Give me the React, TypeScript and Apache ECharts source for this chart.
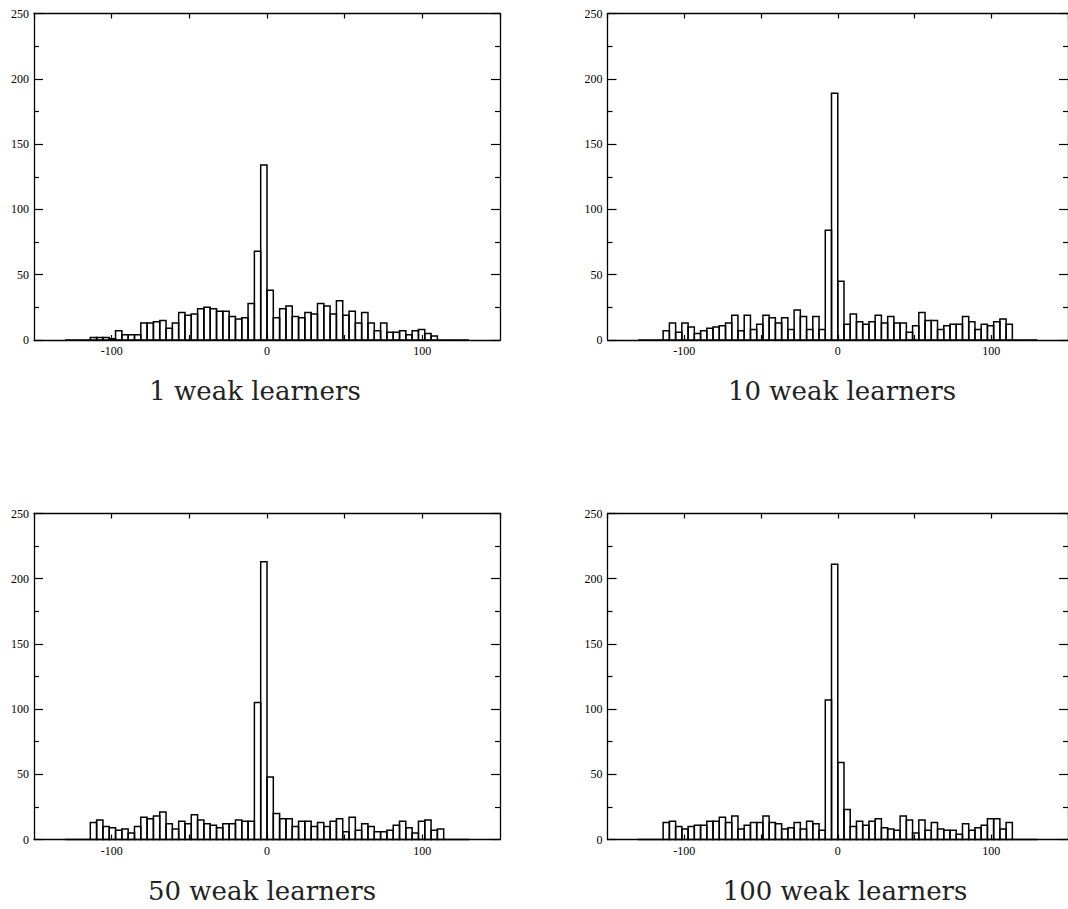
import React, { useEffect, useRef } from "react";
import * as echarts from "echarts";

// Histogram bins: 64 bins from -130 to 130
const BIN_START = -130;
const BIN_WIDTH = 4.0625;

const COUNTS_1 = [
  0, 0, 0, 0, 2, 2, 2, 1, 7, 4, 4, 4, 13, 13, 14, 15, 9, 13, 21, 19, 20, 24, 25, 24, 22, 22, 18, 16, 17, 28, 68, 134,
  38, 17, 24, 26, 18, 17, 21, 20, 28, 26, 20, 30, 19, 22, 13, 21, 13, 7, 13, 6, 6, 7, 4, 7, 8, 5, 3, 0, 0, 0, 0, 0,
];
const COUNTS_10 = [
  0, 0, 0, 0, 7, 13, 6, 13, 10, 5, 7, 9, 10, 11, 13, 19, 7, 19, 8, 12, 19, 17, 13, 17, 8, 23, 18, 8, 18, 8, 84, 189,
  45, 12, 20, 14, 12, 14, 19, 13, 18, 13, 13, 6, 11, 21, 15, 15, 8, 11, 12, 12, 18, 14, 8, 12, 11, 14, 16, 12, 0, 0, 0, 0,
];
const COUNTS_50 = [
  0, 0, 0, 0, 13, 15, 10, 9, 7, 8, 5, 10, 17, 16, 18, 21, 12, 8, 14, 12, 19, 15, 12, 11, 9, 12, 12, 15, 14, 14, 105, 213,
  48, 20, 16, 16, 10, 14, 14, 10, 13, 10, 14, 16, 6, 17, 7, 12, 10, 6, 6, 7, 11, 14, 9, 5, 14, 15, 7, 8, 0, 0, 0, 0,
];
const COUNTS_100 = [
  0, 0, 0, 0, 13, 14, 10, 8, 10, 11, 11, 14, 14, 17, 13, 18, 8, 11, 13, 13, 18, 13, 12, 8, 9, 13, 8, 14, 12, 7, 107, 211,
  59, 23, 10, 14, 11, 14, 16, 9, 8, 7, 18, 15, 5, 15, 7, 13, 8, 7, 7, 4, 12, 7, 9, 11, 16, 16, 8, 13, 0, 0, 0, 0,
];

const PANEL_TITLES = ["1 weak learners", "10 weak learners", "50 weak learners", "100 weak learners"];
const PANEL_COUNTS = [COUNTS_1, COUNTS_10, COUNTS_50, COUNTS_100];

const X_MIN = -150;
const X_MAX = 150;
const Y_MIN = 0;
const Y_MAX = 250;

// layout
const GRIDS = [
  { left: 34, top: 13.5, width: 466, height: 326.5 },
  { left: 607.5, top: 13.5, width: 466, height: 326.5 },
  { left: 34, top: 513.5, width: 466, height: 326 },
  { left: 607.5, top: 513.5, width: 466, height: 326 },
];
const TITLE_POS = [
  [255, 391],
  [842, 391],
  [262, 891],
  [845, 891],
];

export default function App() {
  const ref = useRef<HTMLDivElement>(null);

  useEffect(() => {
    if (!ref.current) return;
    const chart = echarts.init(ref.current, null, { renderer: "svg" });

    const axisLineStyle = { color: "#000", width: 1.3 };
    const labelFont = { fontFamily: "Liberation Serif", fontSize: 12, color: "#000" };

    const xAxes: any[] = [];
    const yAxes: any[] = [];
    const series: any[] = [];

    GRIDS.forEach((_, i) => {
      const common = {
        type: "value",
        gridIndex: i,
        min: X_MIN,
        max: X_MAX,
        interval: 50,
        splitLine: { show: false },
        axisLine: { show: true, onZero: false, lineStyle: axisLineStyle },
        axisTick: { show: true, inside: true, length: 5, lineStyle: { color: "#000", width: 1.2 } },
      };
      xAxes.push({
        ...common,
        position: "bottom",
        axisLabel: {
          ...labelFont,
          margin: 5,
          showMinLabel: false,
          showMaxLabel: false,
          formatter: (v: number) => (Math.abs(v) < 150 && v % 100 === 0 ? String(v) : ""),
        },
      });
      xAxes.push({
        ...common,
        position: "top",
        axisLabel: { show: false },
      });
      const ycommon = {
        type: "value",
        gridIndex: i,
        min: Y_MIN,
        max: Y_MAX,
        interval: 50,
        splitLine: { show: false },
        axisLine: { show: true, onZero: false, lineStyle: axisLineStyle },
        axisTick: { show: true, inside: true, length: 9, lineStyle: { color: "#000", width: 1.2 } },
        minorTick: { show: true, splitNumber: 2, length: 5, lineStyle: { color: "#000", width: 1.2 } },
      };
      yAxes.push({
        ...ycommon,
        position: "left",
        axisLabel: { ...labelFont, margin: 5 },
      });
      yAxes.push({
        ...ycommon,
        position: "right",
        axisLabel: { show: false },
      });

      const counts = PANEL_COUNTS[i];
      const data = counts.map((c, k) => [BIN_START + k * BIN_WIDTH, BIN_START + (k + 1) * BIN_WIDTH, c]);
      series.push({
        type: "custom",
        xAxisIndex: i * 2,
        yAxisIndex: i * 2,
        encode: { x: [0, 1], y: 2 },
        data,
        z: 3,
        renderItem: (params: any, api: any) => {
          const x0 = api.value(0);
          const x1 = api.value(1);
          const y = api.value(2);
          const p0 = api.coord([x0, y]);
          const p1 = api.coord([x1, 0]);
          return {
            type: "rect",
            shape: { x: p0[0], y: p0[1], width: p1[0] - p0[0], height: p1[1] - p0[1] },
            style: { fill: "none", stroke: "#000", lineWidth: 1.5 },
          };
        },
      });
    });

    const graphic = PANEL_TITLES.map((t, i) => ({
      type: "text",
      x: TITLE_POS[i][0],
      y: TITLE_POS[i][1],
      style: {
        text: t,
        fontFamily: "DejaVu Serif",
        fontSize: 26,
        fill: "#222",
        align: "center",
        verticalAlign: "middle",
      },
    }));

    chart.setOption({
      animation: false,
      backgroundColor: "#fff",
      grid: GRIDS.map((g) => ({ ...g, containLabel: false })),
      xAxis: xAxes,
      yAxis: yAxes,
      series,
      graphic,
    });

    return () => chart.dispose();
  }, []);

  return (
    <div
      ref={ref}
      style={{ position: "fixed", left: 0, top: 0, width: 1068, height: 909, background: "#fff" }}
    />
  );
}
